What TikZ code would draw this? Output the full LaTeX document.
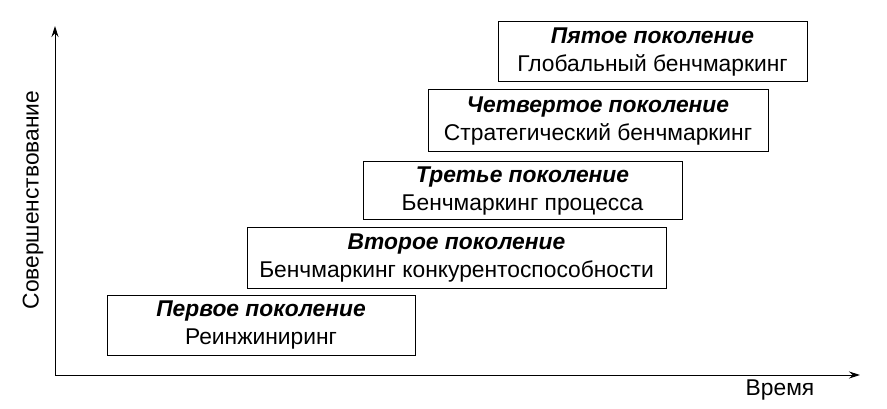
\documentclass[tikz,border=0pt]{standalone}
\usepackage{fontspec}
\setmainfont{Liberation Sans}
\usetikzlibrary{arrows.meta}
\begin{document}
\begin{tikzpicture}[x=1pt,y=-1pt,
  box/.style={draw,line width=1pt,align=center,inner sep=0pt,font=\fontsize{22.8}{28}\selectfont},
  ax/.style={line width=1pt,-{Stealth[length=11pt,width=7pt]}}]
\useasboundingbox (0,0) rectangle (887,409);
\coordinate (o) at (55,375);
\coordinate (ytop) at (55,26);
\coordinate (xend) at (860,375);
\draw[ax] (o) -- (ytop);
\draw[ax] (o) -- (xend);
\node[rotate=90,font=\fontsize{22.8}{28}\selectfont] (yl) at (33,200) {Совершенствование};
\node[font=\fontsize{22.8}{28}\selectfont] (xl) at (780,390) {Время};
\node[box,minimum width=308,minimum height=60] (b1) at (261,325) {{\bfseries\itshape Первое поколение}\\Реинжиниринг};
\node[box,minimum width=419,minimum height=60] (b2) at (456.5,258) {{\bfseries\itshape Второе поколение}\\Бенчмаркинг конкурентоспособности};
\node[box,minimum width=319,minimum height=58] (b3) at (522.5,191) {{\bfseries\itshape Третье поколение}\\Бенчмаркинг процесса};
\node[box,minimum width=340,minimum height=62] (b4) at (598,121) {{\bfseries\itshape Четвертое поколение}\\Стратегический бенчмаркинг};
\node[box,minimum width=309,minimum height=60] (b5) at (652.5,52) {{\bfseries\itshape Пятое поколение}\\Глобальный бенчмаркинг};
\end{tikzpicture}
\end{document}
